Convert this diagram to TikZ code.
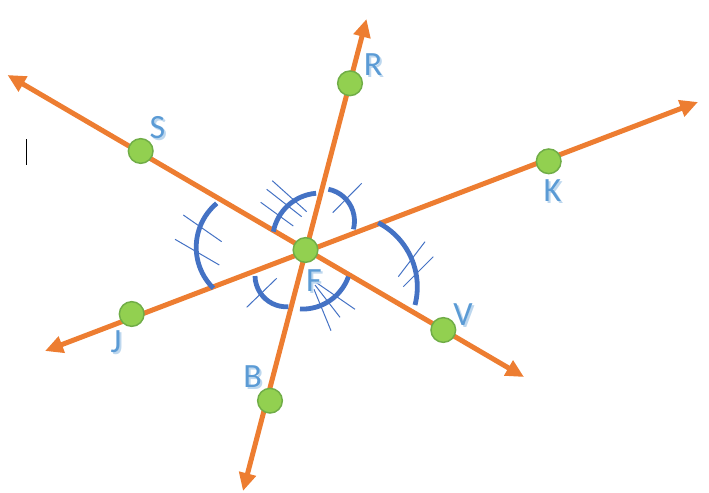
\documentclass[tikz,border=0pt]{standalone}
\usepackage{fontspec}
\setmainfont{Carlito}
\usepackage{tikz}
\usetikzlibrary{arrows.meta}
\definecolor{rayorange}{HTML}{ED7D31}
\definecolor{arcblue}{HTML}{4472C4}
\definecolor{letterblue}{HTML}{5B9BD5}
\definecolor{pointgreen}{HTML}{92D050}
\definecolor{pointrim}{HTML}{70AD47}
\tikzset{>={Triangle[width=12.5pt,length=13.5pt]}}
\tikzset{
  ray/.style={color=rayorange,line width=3.75pt,<->},
  pt/.style={shape=circle,fill=pointgreen,draw=pointrim,line width=1.1pt,minimum size=18.5pt,inner sep=0pt},
  anglearc/.style={draw=arcblue,line width=3.6pt},
  tickline/.style={draw=arcblue,line width=0.75pt},
  letter/.style={text=letterblue,font=\fontsize{25.5}{25.5}\selectfont,inner sep=0pt},
  lettershade/.style={letter,text=letterblue!40}
}
\newcommand{\ptletter}[3]{%
  \node[lettershade] (#2s) at ([shift={(2,2)}]#1) {#3};
  \node[letter] (#2) at (#1) {#3};}

\begin{document}
\begin{tikzpicture}[x=0.75pt,y=-0.75pt]
\useasboundingbox (0,0) rectangle (709,492);

\coordinate (sEnd) at (7.5,75);
\coordinate (vEnd) at (524,377);
\coordinate (rEnd) at (366.5,19);
\coordinate (bEnd) at (243,491);
\coordinate (jEnd) at (45,351);
\coordinate (kEnd) at (698,102);

\draw[ray] (sEnd) -- (vEnd);
\draw[ray] (rEnd) -- (bEnd);
\draw[ray] (jEnd) -- (kEnd);

\draw[anglearc] ([shift={(190.8:47.5)}]320,240.6) arc[start angle=190.8,end angle=265.3,radius=47.5];
\draw[anglearc] ([shift={(281.4:32.5)}]322,221.1) arc[start angle=281.4,end angle=374.6,radius=32.5];
\draw[anglearc] ([shift={(-62.7:72.2)}]345.1,286.9) arc[start angle=-62.7,end angle=14.5,radius=72.2];
\draw[anglearc] ([shift={(134.5:57.4)}]253.6,247.3) arc[start angle=134.5,end angle=230,radius=57.4];
\draw[anglearc] ([shift={(86.3:31.3)}]286.3,275.5) arc[start angle=86.3,end angle=179,radius=31.3];
\draw[anglearc] ([shift={(19.8:49)}]302.3,260.1) arc[start angle=19.8,end angle=92.7,radius=49];

\draw[tickline] (272.3,180.7) -- (306.7,211.7);
\draw[tickline] (266.7,189.3) -- (301.7,216.7);
\draw[tickline] (260.7,202.3) -- (293.3,226);
\draw[tickline] (361.7,183.3) -- (332.7,212.7);
\draw[tickline] (425,241.7) -- (398.3,276.7);
\draw[tickline] (433.3,256.7) -- (403.3,286.7);
\draw[tickline] (183.3,215) -- (221.7,241.7);
\draw[tickline] (175,239.3) -- (219.3,265);
\draw[tickline] (276.7,278.3) -- (246.7,307.3);
\draw[tickline] (315,281.7) -- (355,309.3);
\draw[tickline] (315,285) -- (340,317.3);
\draw[tickline] (314,289.3) -- (331,330.7);

\node[pt] (ptF) at (305.5,250) {};
\node[pt] (ptS) at (140.7,151) {};
\node[pt] (ptR) at (350,83.3) {};
\node[pt] (ptJ) at (131.7,314) {};
\node[pt] (ptB) at (270,400.7) {};
\node[pt] (ptV) at (443.3,330) {};
\node[pt] (ptK) at (548.7,161.3) {};

\ptletter{157.5,127.5}{txtS}{S}
\ptletter{373,64.5}{txtR}{R}
\ptletter{116,341.5}{txtJ}{J}
\ptletter{252.5,377}{txtB}{B}
\ptletter{463,315}{txtV}{V}
\ptletter{552.5,191}{txtK}{K}
\ptletter{314,281}{txtF}{F}

\draw[line width=0.75pt] (26.5,139) -- (26.5,165);

\end{tikzpicture}
\end{document}
